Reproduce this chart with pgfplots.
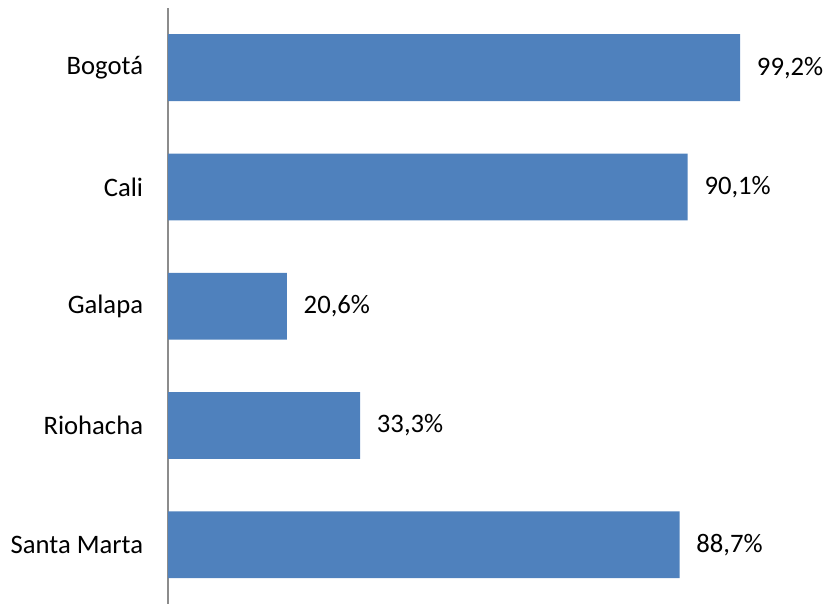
\documentclass[border=0pt]{standalone}
\usepackage{pgfplots}
\pgfplotsset{compat=1.18}
\usepackage{fontspec}
\setmainfont{Carlito}
\definecolor{barblue}{HTML}{4F81BD}
\definecolor{axisgray}{HTML}{8C8C8C}
\begin{document}
\begin{tikzpicture}
\useasboundingbox (0,0) rectangle (617.25pt,452.25pt);
\begin{axis}[
    at={(126pt,-1pt)}, anchor=south west,
    scale only axis,
    width=432.5pt, height=447.25pt,
    xbar, bar width=0.56,
    xmin=0, xmax=100,
    ymin=-0.5, ymax=4.5,
    y dir=reverse,
    hide x axis,
    axis y line*=left,
    y axis line style={draw=axisgray, line width=1.1pt, -},
    ytick={0,1,2,3,4},
    yticklabels={Bogotá, Cali, Galapa, Riohacha, Santa Marta},
    major tick length=0pt,
    yticklabel style={font=\fontsize{20}{24}\selectfont, inner sep=0pt, xshift=-18.5pt},
    /pgf/number format/assume math mode=true,
    nodes near coords={\pgfmathprintnumber[fixed,fixed zerofill,precision=1,use comma]{\pgfplotspointmeta}\%},
    nodes near coords style={font=\fontsize{20}{24}\selectfont, anchor=west, inner sep=0pt, xshift=12.5pt},
    clip=false,
]
\addplot[fill=barblue, draw=none] coordinates {
    (99.2,0)
    (90.1,1)
    (20.6,2)
    (33.3,3)
    (88.7,4)
};
\end{axis}
\end{tikzpicture}
\end{document}
